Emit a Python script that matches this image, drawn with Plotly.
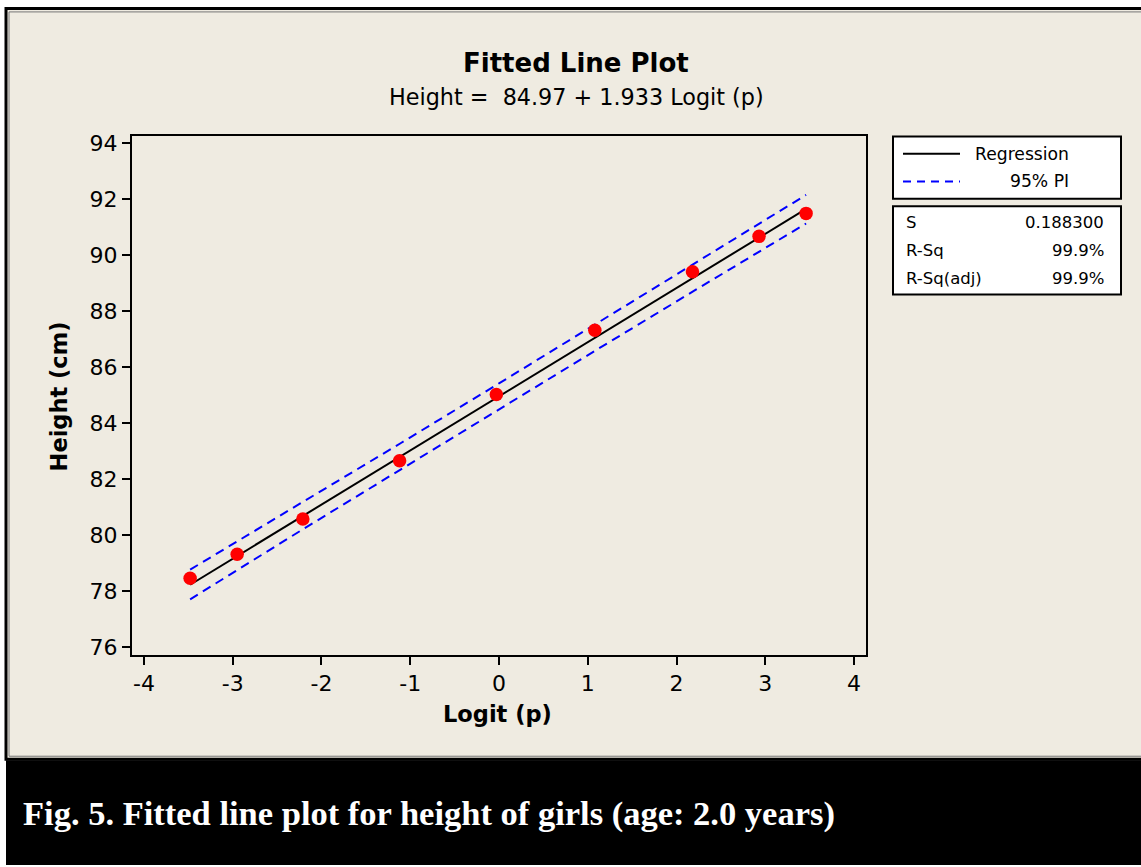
import plotly.graph_objects as go

# ---------------- data ----------------
logit_p = [-3.48, -2.95, -2.21, -1.12, -0.03, 1.08, 2.18, 2.93, 3.46]
height_cm = [78.47, 79.33, 80.59, 82.67, 85.03, 87.33, 89.42, 90.68, 91.50]

fit_x = [-3.48, -2.20, -1.10, 0.00, 1.10, 2.20, 3.46]
fit_y = [78.24, 80.72, 82.84, 84.97, 87.10, 89.22, 91.66]
pi_upper = [78.78, 81.20, 83.31, 85.43, 87.57, 89.70, 92.16]
pi_lower = [77.72, 80.24, 82.37, 84.51, 86.63, 88.74, 91.14]

x_ticks = [-4, -3, -2, -1, 0, 1, 2, 3, 4]
x_tick_text = ["-4", "-3", "-2", "-1", "0", "1", "2", "3", "4"]
y_ticks = [76, 78, 80, 82, 84, 86, 88, 90, 92, 94]

stats_labels = ["S", "R-Sq", "R-Sq(adj)"]
stats_values = ["0.188300", "99.9%", "99.9%"]

W, H = 1141, 867
BEIGE = "#EFEBE1"
FONT = "DejaVu Sans"


def X(px):
    return px / W


def Y(py):
    return 1 - py / H


fig = go.Figure()

fig.add_trace(go.Scatter(x=fit_x, y=fit_y, mode="lines",
                         line=dict(color="black", width=2), showlegend=False))
fig.add_trace(go.Scatter(x=fit_x, y=pi_upper, mode="lines",
                         line=dict(color="#0000FF", width=2, dash="9px,6px"), showlegend=False))
fig.add_trace(go.Scatter(x=fit_x, y=pi_lower, mode="lines",
                         line=dict(color="#0000FF", width=2, dash="9px,6px"), showlegend=False))
fig.add_trace(go.Scatter(x=logit_p, y=height_cm, mode="markers",
                         marker=dict(color="#FF0000", size=13.5, line=dict(width=0)), showlegend=False))

shapes = []
# outer beige panel with border
shapes.append(dict(type="rect", xref="paper", yref="paper", x0=X(6), x1=X(1150), y0=Y(763), y1=Y(3.5),
                   fillcolor=BEIGE, line=dict(color="black", width=3), layer="below"))
shapes.append(dict(type="rect", xref="paper", yref="paper", x0=X(9), x1=X(1150), y0=Y(760), y1=Y(7),
                   fillcolor="rgba(0,0,0,0)", line=dict(color="#777777", width=1), layer="below"))
# black caption band
shapes.append(dict(type="rect", xref="paper", yref="paper", x0=X(6), x1=X(1150), y0=Y(870), y1=Y(764),
                   fillcolor="black", line=dict(width=0), layer="below"))
# legend box
shapes.append(dict(type="rect", xref="paper", yref="paper", x0=X(893), x1=X(1121), y0=Y(196), y1=Y(133),
                   fillcolor="white", line=dict(color="black", width=2)))
shapes.append(dict(type="line", xref="paper", yref="paper", x0=X(903), x1=X(960), y0=Y(150.5), y1=Y(150.5),
                   line=dict(color="black", width=2)))
shapes.append(dict(type="line", xref="paper", yref="paper", x0=X(903), x1=X(960), y0=Y(178.5), y1=Y(178.5),
                   line=dict(color="#0000FF", width=2, dash="8px,6px")))
# stats box
shapes.append(dict(type="rect", xref="paper", yref="paper", x0=X(893), x1=X(1121), y0=Y(293), y1=Y(203.5),
                   fillcolor="white", line=dict(color="black", width=2)))

annotations = []


def ann(text, px, py, size, xanchor="center", bold=False, color="black", family=FONT, angle=0):
    annotations.append(dict(text=("<b>%s</b>" % text) if bold else text, x=X(px), y=Y(py),
                            xref="paper", yref="paper", xanchor=xanchor, yanchor="middle",
                            showarrow=False, textangle=angle,
                            font=dict(family=family, size=size, color=color)))


ann("Fitted Line Plot", 576, 59, 26, bold=True)
ann("Height =  84.97 + 1.933 Logit (p)", 576, 93, 22.3)
ann("Height (cm)", 59, 396, 22.5, bold=True, angle=-90)
ann("Logit (p)", 497, 717, 22.5, bold=True)
ann("Regression", 1071, 150.5, 17.2, xanchor="right")
ann("95% PI", 1071, 178.5, 17.2, xanchor="right")
for i, (lab, val) in enumerate(zip(stats_labels, stats_values)):
    yy = 220 + i * 28.3
    ann(lab, 904, yy, 16.5, xanchor="left")
    ann(val, 1106, yy, 16.5, xanchor="right")
ann("Fig. 5. Fitted line plot for height of girls (age: 2.0 years)", 21, 818, 34.5, xanchor="left",
    bold=True, color="white", family="Liberation Serif")

fig.update_layout(
    width=W, height=H,
    margin=dict(l=0, r=0, t=0, b=0),
    paper_bgcolor="white",
    plot_bgcolor="white",
    shapes=shapes,
    annotations=annotations,
    xaxis=dict(domain=[X(132), X(866)], range=[-4.135, 4.135], tickvals=x_ticks, ticktext=x_tick_text,
               ticks="outside", ticklen=8, tickwidth=2, tickcolor="black",
               showline=True, linecolor="black", linewidth=2, mirror=True,
               showgrid=False, zeroline=False,
               tickfont=dict(family=FONT, size=22, color="black")),
    yaxis=dict(domain=[Y(657.5), Y(133)], range=[75.735, 94.247], tickvals=y_ticks,
               ticks="outside", ticklen=8, tickwidth=2, tickcolor="black",
               showline=True, linecolor="black", linewidth=2, mirror=True,
               showgrid=False, zeroline=False,
               tickfont=dict(family=FONT, size=22, color="black")),
)

fig.write_html("out.html")
